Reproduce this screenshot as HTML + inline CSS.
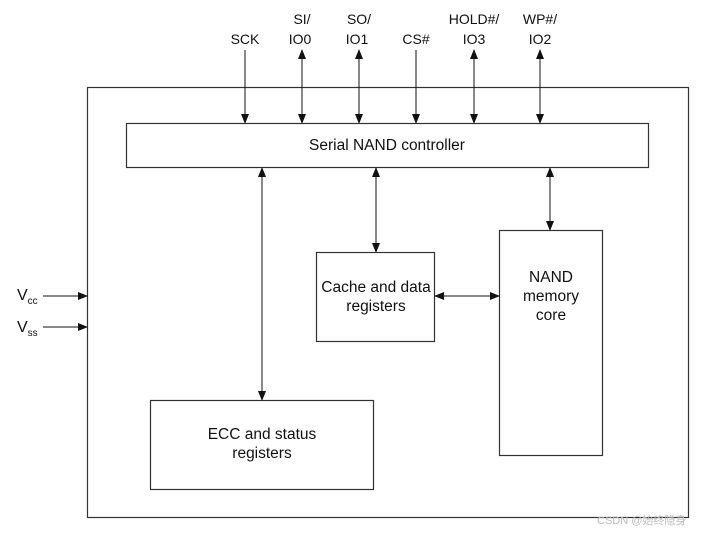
<!DOCTYPE html>
<html><head><meta charset="utf-8"><style>
html,body{margin:0;padding:0;background:#fff;}
svg{display:block;}
text{font-family:"Liberation Sans",sans-serif;font-size:14px;fill:#111;}
.b{font-size:15.5px;}
</style></head><body>
<svg width="708" height="533" viewBox="0 0 708 533" xmlns="http://www.w3.org/2000/svg">
<defs>
<marker id="a" markerWidth="10" markerHeight="8" refX="9" refY="4" orient="auto-start-reverse" markerUnits="userSpaceOnUse">
<path d="M0,0 L10,4 L0,8 z" fill="#111"/></marker>
</defs>
<g fill="none" stroke="#333" stroke-width="1.2">
<rect x="87.5" y="87.5" width="601" height="430"/>
<rect x="126.5" y="123.5" width="522" height="44"/>
<rect x="316.5" y="252.5" width="118" height="89"/>
<rect x="499.5" y="230.5" width="103" height="225"/>
<rect x="150.5" y="400.5" width="223" height="89"/>
</g>
<g stroke="#111" stroke-width="1">
<line x1="245" y1="50" x2="245" y2="123" marker-end="url(#a)"/>
<line x1="302" y1="50" x2="302" y2="123" marker-start="url(#a)" marker-end="url(#a)"/>
<line x1="359" y1="50" x2="359" y2="123" marker-start="url(#a)" marker-end="url(#a)"/>
<line x1="416" y1="50" x2="416" y2="123" marker-end="url(#a)"/>
<line x1="474" y1="50" x2="474" y2="123" marker-start="url(#a)" marker-end="url(#a)"/>
<line x1="540" y1="50" x2="540" y2="123" marker-start="url(#a)" marker-end="url(#a)"/>
<line x1="262" y1="168" x2="262" y2="400" marker-start="url(#a)" marker-end="url(#a)"/>
<line x1="376" y1="168" x2="376" y2="252" marker-start="url(#a)" marker-end="url(#a)"/>
<line x1="550" y1="168" x2="550" y2="230" marker-start="url(#a)" marker-end="url(#a)"/>
<line x1="435" y1="296" x2="499" y2="296" marker-start="url(#a)" marker-end="url(#a)"/>
<line x1="43" y1="296" x2="87" y2="296" marker-end="url(#a)"/>
<line x1="43" y1="327" x2="87" y2="327" marker-end="url(#a)"/>
</g>
<g text-anchor="middle">
<text x="245" y="44">SCK</text>
<text x="302" y="24">SI/</text><text x="300" y="44">IO0</text>
<text x="359" y="24">SO/</text><text x="357" y="44">IO1</text>
<text x="416" y="44">CS#</text>
<text x="474" y="24">HOLD#/</text><text x="474" y="44">IO3</text>
<text x="540" y="24">WP#/</text><text x="540" y="44">IO2</text>
<text class="b" x="387" y="150">Serial NAND controller</text>
<text class="b" x="376" y="292">Cache and data</text>
<text class="b" x="376" y="311">registers</text>
<text class="b" x="551" y="282">NAND</text>
<text class="b" x="551" y="301">memory</text>
<text class="b" x="551" y="320">core</text>
<text class="b" x="262" y="439">ECC and status</text>
<text class="b" x="262" y="458">registers</text>
</g>
<text x="17" y="300" style="font-size:16px">V<tspan dy="4" style="font-size:10px">cc</tspan></text>
<text x="17" y="332" style="font-size:16px">V<tspan dy="4" style="font-size:10px">ss</tspan></text>
<text x="597" y="524" style="font-size:11px;fill:#bbb;font-family:'Liberation Sans','Noto Sans CJK SC',sans-serif">CSDN @始终隐身</text>
</svg>
</body></html>
